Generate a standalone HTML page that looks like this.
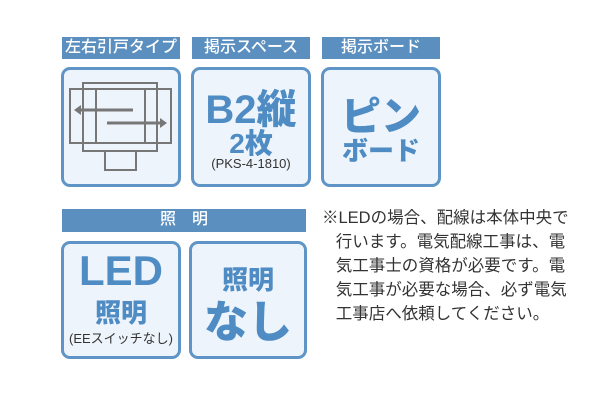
<!DOCTYPE html>
<html><head><meta charset="utf-8"><style>
body{margin:0;width:600px;height:416px;background:#fff;position:relative;overflow:hidden;font-family:"Liberation Sans","Noto Sans CJK JP",sans-serif}
.h{position:absolute;background:#5a8fbf;color:#fff;font-size:16px;line-height:22px;height:22px;text-align:center;font-weight:500}
.b{position:absolute;box-sizing:border-box;border:3px solid #5e95c6;border-radius:9px;background:#eef4fb}
.t{position:absolute;left:0;width:100%;text-align:center;color:#4f8cc4;font-weight:900;white-space:nowrap}
.s{position:absolute;left:0;width:100%;text-align:center;color:#333;font-size:13px;white-space:nowrap}
.n{position:absolute;left:322px;top:206px;font-size:16.5px;line-height:24px;color:#333;white-space:nowrap}
</style></head><body>
<div class="h" style="left:62px;top:37px;width:118px">左右引戸タイプ</div>
<div class="h" style="left:192px;top:37px;width:118px">掲示スペース</div>
<div class="h" style="left:322px;top:37px;width:118px">掲示ボード</div>
<div class="b" style="left:61px;top:67px;width:120px;height:120px"></div>
<svg style="position:absolute;left:0;top:0" width="600" height="416">
<g fill="none" stroke="#777" stroke-width="2">
<rect x="83" y="83" width="74" height="68"/>
<rect x="70" y="89" width="101" height="54"/>
<line x1="96" y1="89" x2="96" y2="143"/><line x1="145" y1="89" x2="145" y2="143"/>
<rect x="105" y="151" width="31" height="19"/>
</g>
<g stroke="#777" stroke-width="3"><line x1="133" y1="110" x2="80" y2="110"/><line x1="107" y1="123" x2="161" y2="123"/></g>
<polygon points="74,110 81,105 81,115" fill="#777"/><polygon points="167,123 160,118 160,128" fill="#777"/>
</svg>
<div class="b" style="left:191px;top:67px;width:120px;height:120px">
<div class="t" style="top:7px;font-size:40px">B2縦</div>
<div class="t" style="top:52px;font-size:28px">2枚</div>
<div class="s" style="top:86px">(PKS-4-1810)</div></div>
<div class="b" style="left:321px;top:67px;width:120px;height:120px">
<div class="t" style="top:14px;font-size:40px">ピン</div>
<div class="t" style="top:61px;font-size:26px">ボード</div></div>
<div class="h" style="left:62px;top:209px;width:244px;height:23px">照　明</div>
<div class="b" style="left:61px;top:241px;width:120px;height:118px">
<div class="t" style="top:3px;font-size:42px">LED</div>
<div class="t" style="top:49px;font-size:26px">照明</div>
<div class="s" style="top:84px">(EEスイッチなし)</div></div>
<div class="b" style="left:189px;top:241px;width:118px;height:118px">
<div class="t" style="top:16px;font-size:26px">照明</div>
<div class="t" style="top:42px;font-size:44px">なし</div></div>
<div class="n">※LEDの場合、配線は本体中央で<br>&nbsp;&nbsp;&nbsp;行います。電気配線工事は、電<br>&nbsp;&nbsp;&nbsp;気工事士の資格が必要です。電<br>&nbsp;&nbsp;&nbsp;気工事が必要な場合、必ず電気<br>&nbsp;&nbsp;&nbsp;工事店へ依頼してください。</div>
</body></html>
